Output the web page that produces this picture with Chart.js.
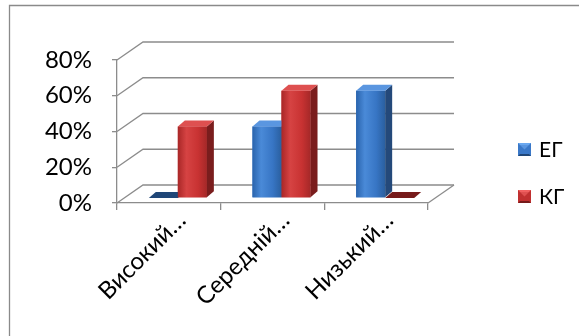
<!DOCTYPE html>
<html><head><meta charset="utf-8">
<script src="https://cdn.jsdelivr.net/npm/chart.js@4.4.0/dist/chart.umd.min.js"></script>
<style>html,body{margin:0;padding:0;background:#fff;overflow:hidden}</style>
</head><body>
<canvas id="c" width="579" height="336" style="display:block;width:579px;height:336px"></canvas>
<script>
const categories = ['Високий…', 'Середній…', 'Низький…'];
const seriesNames = ['ЕГ', 'КГ'];
const egValues = [0, 0.4, 0.6];
const kgValues = [0.4, 0.6, 0];
const yTickLabels = ['0%', '20%', '40%', '60%', '80%'];

const FONT = 'Lato, "Open Sans", sans-serif';
const GRID = '#8c8c8c';
const palette = [
  { front: ['#2a64ad', '#4a8ad8', '#3775c4', '#2a5f9f'], side: '#24497a', top: '#5a96e0', flat: '#1f4677', box: '#3a78c8', light: '#6aa8f0', dark: '#1f4677' },
  { front: ['#a92727', '#d64343', '#c83232', '#a52828'], side: '#7a1d1d', top: '#de5050', flat: '#761a1a', box: '#c03030', light: '#f06060', dark: '#761a1a' }
];
const DX = 26, DY = -18;   // back wall offset
const BX = 9, BY = -5;     // bar depth position
const FX = 7, FY = -6;     // bar thickness

function poly(ctx, pts, fill) {
  ctx.beginPath();
  ctx.moveTo(pts[0][0], pts[0][1]);
  for (let i = 1; i < pts.length; i++) ctx.lineTo(pts[i][0], pts[i][1]);
  ctx.closePath();
  ctx.fillStyle = fill;
  ctx.fill();
}

const threeD = {
  id: 'threeD',
  beforeDraw(chart) {
    const ctx = chart.ctx;
    ctx.save();
    ctx.fillStyle = '#fff';
    ctx.fillRect(0, 0, chart.width, chart.height);
    ctx.strokeStyle = '#8a8a8a';
    ctx.lineWidth = 1.3;
    ctx.beginPath();
    ctx.moveTo(9.5, chart.height);
    ctx.lineTo(9.5, 5.5);
    ctx.lineTo(chart.width, 5.5);
    ctx.stroke();
    ctx.restore();
  },
  beforeDatasetsDraw(chart) {
    const { ctx, chartArea: a, scales: { y } } = chart;
    ctx.save();
    ctx.strokeStyle = GRID;
    ctx.lineWidth = 1.3;
    y.ticks.forEach(t => {
      const py = y.getPixelForValue(t.value);
      ctx.beginPath();
      ctx.moveTo(a.left, py);
      ctx.lineTo(a.left + DX, py + DY);
      ctx.lineTo(a.right + DX, py + DY);
      ctx.stroke();
    });
    const by = y.getPixelForValue(0);
    ctx.beginPath();
    ctx.moveTo(a.right, by);
    ctx.lineTo(a.right + DX, by + DY);
    ctx.stroke();
    ctx.restore();
    ctx.save();
    ctx.translate(BX, BY);
  },
  afterDatasetsDraw(chart) {
    const ctx = chart.ctx;
    chart.data.datasets.forEach((ds, di) => {
      const meta = chart.getDatasetMeta(di);
      const c = palette[di];
      meta.data.forEach(el => {
        const { x, y, base, width } = el.getProps(['x', 'y', 'base', 'width'], true);
        const l = x - width / 2, r = x + width / 2;
        if (base - y < 1) {
          poly(ctx, [[l, base], [r, base], [r + FX, base + FY], [l + FX, base + FY]], c.flat);
          return;
        }
        const g = ctx.createLinearGradient(l, 0, r, 0);
        g.addColorStop(0, c.front[0]);
        g.addColorStop(0.3, c.front[1]);
        g.addColorStop(0.7, c.front[2]);
        g.addColorStop(1, c.front[3]);
        ctx.fillStyle = g;
        ctx.fillRect(l, y, width, base - y);
        poly(ctx, [[r, y], [r + FX, y + FY], [r + FX, base + FY], [r, base]], c.side);
        poly(ctx, [[l, y], [r, y], [r + FX, y + FY], [l + FX, y + FY]], c.top);
      });
    });
    ctx.restore();
  },
  afterDraw(chart) {
    const ctx = chart.ctx;
    ctx.save();
    ctx.font = '21px ' + FONT;
    ctx.textBaseline = 'middle';
    ctx.textAlign = 'left';
    const items = [149.5, 196.5];
    const S = 13;
    seriesNames.forEach((n, i) => {
      const cy = items[i];
      const L = 518, T = cy - S / 2, R = L + S, B = T + S, mx = L + S / 2, my = T + S / 2;
      const c = palette[i];
      ctx.fillStyle = c.box; ctx.fillRect(L, T, S, S);
      poly(ctx, [[L, T], [R, T], [mx, my]], c.light);
      poly(ctx, [[L, B], [R, B], [mx, my]], c.dark);
      poly(ctx, [[L + 2, T + 2], [R - 2, T + 2], [R - 2, B - 2], [L + 2, B - 2]], c.box);
      poly(ctx, [[L + 2, T + 2], [R - 2, T + 2], [mx, my]], c.top);
      ctx.fillStyle = '#000';
      ctx.fillText(n, 539, cy + 1);
    });
    ctx.restore();
  }
};

new Chart(document.getElementById('c'), {
  type: 'bar',
  data: {
    labels: categories,
    datasets: [
      { label: seriesNames[0], data: egValues, backgroundColor: palette[0].box, borderWidth: 0 },
      { label: seriesNames[1], data: kgValues, backgroundColor: palette[1].box, borderWidth: 0 }
    ]
  },
  options: {
    responsive: false,
    animation: false,
    devicePixelRatio: 1,
    categoryPercentage: 0.56,
    barPercentage: 1,
    layout: { padding: { left: 0, right: 151, top: 60, bottom: 0 } },
    plugins: { legend: { display: false }, tooltip: { enabled: false } },
    scales: {
      x: {
        afterFit(s) { s.height = 133; },
        grid: { display: true, drawOnChartArea: false, drawTicks: true, tickLength: 7, color: GRID, lineWidth: 1.3, offset: true },
        border: { display: true, color: GRID, width: 1.3 },
        ticks: { color: '#000', font: { family: FONT, size: 24 }, minRotation: 45, maxRotation: 45, autoSkip: false, labelOffset: 13, padding: -4 }
      },
      y: {
        min: 0, max: 0.8,
        afterFit(s) { s.width = 117; },
        grid: { display: true, drawOnChartArea: false, drawTicks: true, tickLength: 5, color: GRID, lineWidth: 1.3 },
        border: { display: true, color: GRID, width: 1.3 },
        ticks: { stepSize: 0.2, color: '#000', font: { family: FONT, size: 24 }, padding: 20,
          callback: (v, i) => yTickLabels[i] }
      }
    }
  },
  plugins: [threeD]
});
</script>
</body></html>
